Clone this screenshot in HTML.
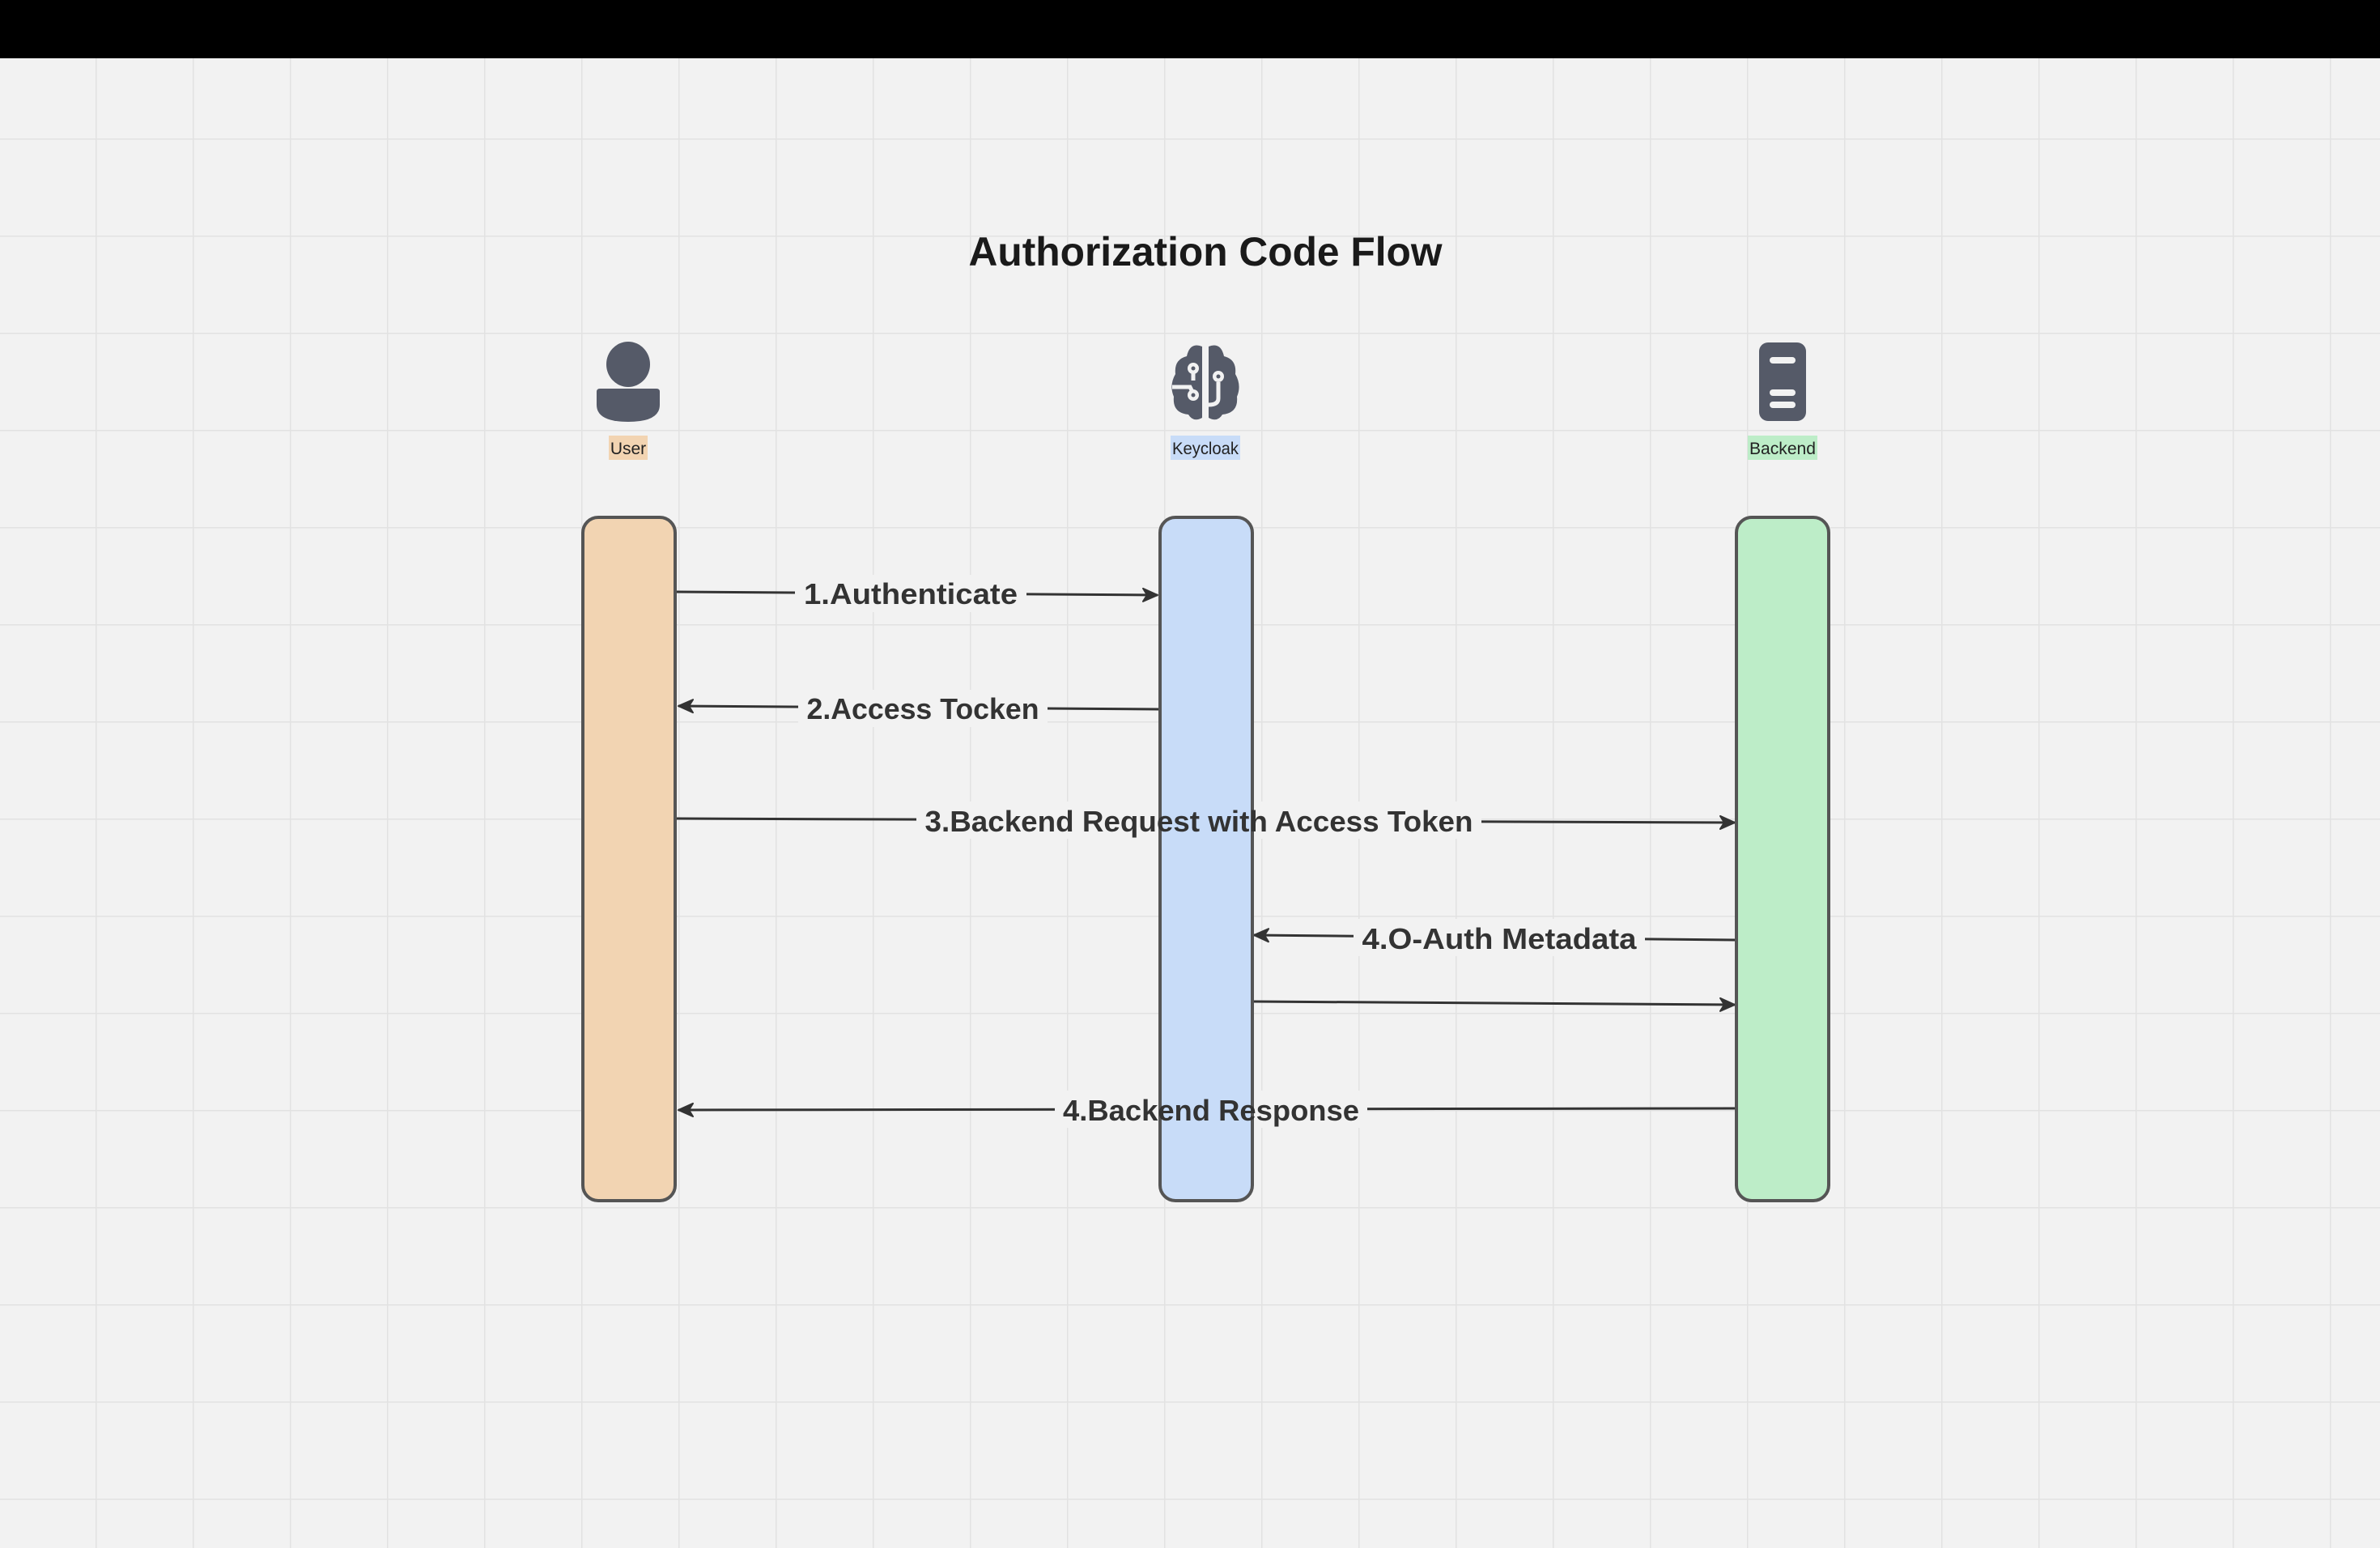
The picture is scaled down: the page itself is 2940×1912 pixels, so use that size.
<!DOCTYPE html>
<html><head><meta charset="utf-8"><style>
html,body{margin:0;padding:0;background:#f2f2f2;}
svg{display:block}
</style></head><body>
<svg width="2940" height="1912" viewBox="0 0 2940 1912" xmlns="http://www.w3.org/2000/svg" font-family="'Liberation Sans', 'DejaVu Sans', sans-serif">
<defs>
<pattern id="g" x="118" y="171" width="120" height="120" patternUnits="userSpaceOnUse">
<path d="M0 0 H120 M0 0 V120" stroke="#e2e2e2" stroke-width="3" fill="none"/>
</pattern>
<marker id="ah" viewBox="0 0 20 20" refX="19" refY="10" markerWidth="20" markerHeight="20" markerUnits="userSpaceOnUse" orient="auto">
<path d="M1 2 L19 10 L1 18 L6 10 Z" fill="#333" stroke="#333" stroke-width="2" stroke-linejoin="round"/>
</marker>
</defs>
<rect width="2940" height="1912" fill="#f2f2f2"/>
<rect width="2940" height="1912" fill="url(#g)"/>
<rect width="2940" height="72" fill="#000"/>

<text x="1489" y="328" text-anchor="middle" font-size="50" font-weight="bold" fill="#1a1a1a" textLength="585" lengthAdjust="spacingAndGlyphs">Authorization Code Flow</text>

<!-- User icon -->
<g fill="#555a68">
<ellipse cx="776" cy="450" rx="27" ry="28"/>
<path d="M737 484 Q737 480 741 480 H811 Q815 480 815 484 V500 Q815 521 776 521 Q737 521 737 500 Z"/>
</g>
<!-- Brain icon -->
<g fill="#555a68">
<path d="M1485 428 Q1470 422 1466 440 Q1450 444 1452 462 Q1444 476 1450 490 Q1448 510 1468 512 Q1474 522 1485 516 Z"/>
<path d="M1493 428 Q1508 422 1512 440 Q1528 444 1526 462 Q1534 476 1528 490 Q1530 510 1510 512 Q1504 522 1493 516 Z"/>
</g>
<g fill="none" stroke="#f2f2f2" stroke-width="5">
<path d="M1448 478 H1470 L1474 486"/>
<path d="M1474 458 L1474 470"/>
<path d="M1505 472 V492 Q1505 500 1493 500"/>
</g>
<g fill="#f2f2f2"><circle cx="1474" cy="455" r="7"/><circle cx="1474" cy="488" r="7"/><circle cx="1505" cy="465" r="7"/></g>
<g fill="#555a68"><circle cx="1474" cy="455" r="2.5"/><circle cx="1474" cy="488" r="2.5"/><circle cx="1505" cy="465" r="2.5"/></g>
<!-- Server icon -->
<rect x="2173" y="423" width="58" height="97" rx="11" fill="#555a68"/>
<g fill="#f2f2f2">
<rect x="2186" y="441" width="32" height="8" rx="4"/>
<rect x="2186" y="481" width="32" height="8" rx="4"/>
<rect x="2186" y="496" width="32" height="8" rx="4"/>
</g>

<!-- Labels -->
<rect x="752" y="538" width="48" height="30" fill="#f2d4b2"/>
<text x="776" y="561" text-anchor="middle" font-size="21" fill="#222">User</text>
<rect x="1446" y="538" width="86" height="30" fill="#c8dcf8"/>
<text x="1489" y="561" text-anchor="middle" font-size="21" fill="#222" textLength="82" lengthAdjust="spacingAndGlyphs">Keycloak</text>
<rect x="2159" y="538" width="86" height="30" fill="#bdedc8"/>
<text x="2202" y="561" text-anchor="middle" font-size="21" fill="#222" textLength="82" lengthAdjust="spacingAndGlyphs">Backend</text>

<!-- Arrows -->
<g stroke="#333" stroke-width="3" fill="none">
<path d="M836 731 L1430 735" marker-end="url(#ah)"/>
<path d="M1431 876 L838 872" marker-end="url(#ah)"/>
<path d="M836 1011 L2143 1016" marker-end="url(#ah)"/>
<path d="M2143 1161 L1549 1155" marker-end="url(#ah)"/>
<path d="M1549 1237 L2143 1241" marker-end="url(#ah)"/>
<path d="M2143 1369 L838 1371" marker-end="url(#ah)"/>
</g>
<g fill="#f2f2f2">
<rect x="982" y="710" width="286" height="46"/>
<rect x="986" y="852" width="308" height="46"/>
<rect x="1132" y="990" width="698" height="46"/>
<rect x="1672" y="1135" width="360" height="46"/>
<rect x="1303" y="1347" width="386" height="46"/>
</g>

<!-- Lifelines -->
<rect x="720" y="639" width="114" height="844" rx="19" fill="#f2d4b2" stroke="#555" stroke-width="4"/>
<rect x="1433" y="639" width="114" height="844" rx="19" fill="#c8dcf8" stroke="#555" stroke-width="4"/>
<rect x="2145" y="639" width="114" height="844" rx="19" fill="#bdedc8" stroke="#555" stroke-width="4"/>

<g font-size="36" font-weight="bold" fill="#333" text-anchor="middle">
<text x="1125" y="746" textLength="264" lengthAdjust="spacingAndGlyphs">1.Authenticate</text>
<text x="1140" y="888" textLength="287" lengthAdjust="spacingAndGlyphs">2.Access Tocken</text>
<text x="1481" y="1027" textLength="677" lengthAdjust="spacingAndGlyphs">3.Backend Request with Access Token</text>
<text x="1852" y="1172" textLength="339" lengthAdjust="spacingAndGlyphs">4.O-Auth Metadata</text>
<text x="1496" y="1384" textLength="366" lengthAdjust="spacingAndGlyphs">4.Backend Response</text>
</g>
</svg>
</body></html>
